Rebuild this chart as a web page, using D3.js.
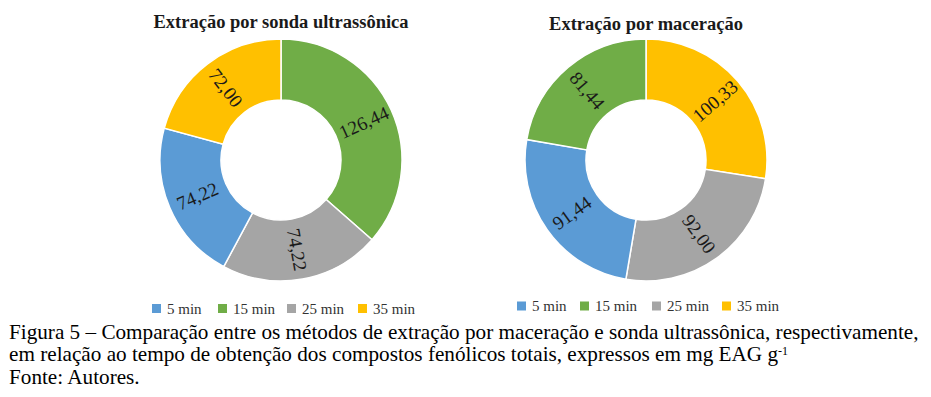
<!DOCTYPE html>
<html>
<head>
<meta charset="utf-8">
<script src="https://cdn.jsdelivr.net/npm/d3@7"></script>
<style>
  body { margin: 0; background: #fff; }
  svg { display: block; }
</style>
</head>
<body>
<svg id="graphContainer" width="931" height="397"></svg>
<script>
// legend categories and colours
const categories = ['5 min', '15 min', '25 min', '35 min'];
const colors = ['#5B9BD5', '#70AD47', '#A5A5A5', '#FFC000'];

// slice order as drawn clockwise from 12 o'clock
const sondaOrder = ['15 min', '25 min', '5 min', '35 min'];
const sondaValues = [126.44, 74.22, 74.22, 72.00];

const maceracaoOrder = ['35 min', '25 min', '5 min', '15 min'];
const maceracaoValues = [100.33, 92.00, 91.44, 81.44];

const titles = ['Extração por sonda ultrassônica', 'Extração por maceração'];

const serif = '"Liberation Serif", "Times New Roman", serif';
const svg = d3.select('#graphContainer');
const color = d3.scaleOrdinal().domain(categories).range(colors);
const fmt = v => v.toFixed(2).replace('.', ',');

function drawDonut(cx, cy, title, titleY, order, values, legendX, legendY, legendSteps) {
  const g = svg.append('g').attr('transform', `translate(${cx},${cy})`);
  const rOuter = 121, rInner = 60;
  const data = order.map((c, i) => ({ cat: c, value: values[i] }));
  const pie = d3.pie().sort(null).value(d => d.value);
  const arc = d3.arc().innerRadius(rInner).outerRadius(rOuter);
  const labelArc = d3.arc().innerRadius(91).outerRadius(91);

  const arcs = pie(data);
  g.selectAll('path')
    .data(arcs)
    .enter()
    .append('path')
    .attr('d', arc)
    .attr('fill', d => color(d.data.cat))
    .attr('stroke', '#fff')
    .attr('stroke-width', 1.5);

  g.selectAll('text.lbl')
    .data(arcs)
    .enter()
    .append('text')
    .attr('class', 'lbl')
    .attr('transform', d => {
      const [x, y] = labelArc.centroid(d);
      let a = ((d.startAngle + d.endAngle) / 2) * 180 / Math.PI - 90;
      if (a > 90) a -= 180;
      return `translate(${x},${y}) rotate(${a})`;
    })
    .attr('text-anchor', 'middle')
    .attr('dy', '0.35em')
    .style('font-family', serif)
    .style('font-size', '19px')
    .attr('fill', '#1a1a1a')
    .text(d => fmt(d.value));

  svg.append('text')
    .attr('x', cx)
    .attr('y', titleY)
    .attr('text-anchor', 'middle')
    .style('font-family', serif)
    .style('font-size', '18.5px')
    .style('font-weight', 'bold')
    .attr('fill', '#1a1a1a')
    .text(title);

  // legend
  const lg = svg.append('g').attr('transform', `translate(${legendX},${legendY})`);
  const item = lg.selectAll('g')
    .data(categories)
    .enter()
    .append('g')
    .attr('transform', (d, i) => `translate(${legendSteps[i]},0)`);
  item.append('rect')
    .attr('x', 0).attr('y', -4.5)
    .attr('width', 9).attr('height', 9)
    .attr('fill', d => color(d));
  item.append('text')
    .attr('x', 15).attr('y', 0)
    .attr('dy', '0.35em')
    .style('font-family', serif)
    .style('font-size', '15px')
    .attr('fill', '#333')
    .text(d => d);
}

drawDonut(281, 160, titles[0], 28, sondaOrder, sondaValues, 152, 308.5, [0, 66, 135, 206]);
drawDonut(646, 160, titles[1], 30, maceracaoOrder, maceracaoValues, 517, 306, [0, 63, 135, 205]);

// caption
const caption = svg.append('text')
  .style('font-family', serif)
  .style('font-size', '21.2px')
  .attr('fill', '#000');
caption.append('tspan').attr('x', 9).attr('y', 339)
  .text('Figura 5 – Comparação entre os métodos de extração por maceração e sonda ultrassônica, respectivamente,');
caption.append('tspan').attr('x', 9).attr('y', 361)
  .text('em relação ao tempo de obtenção dos compostos fenólicos totais, expressos em mg EAG g');
caption.append('tspan').attr('dy', -6).style('font-size', '12px').text('-1');
caption.append('tspan').attr('x', 9).attr('y', 384).text('Fonte: Autores.');
</script>
</body>
</html>
